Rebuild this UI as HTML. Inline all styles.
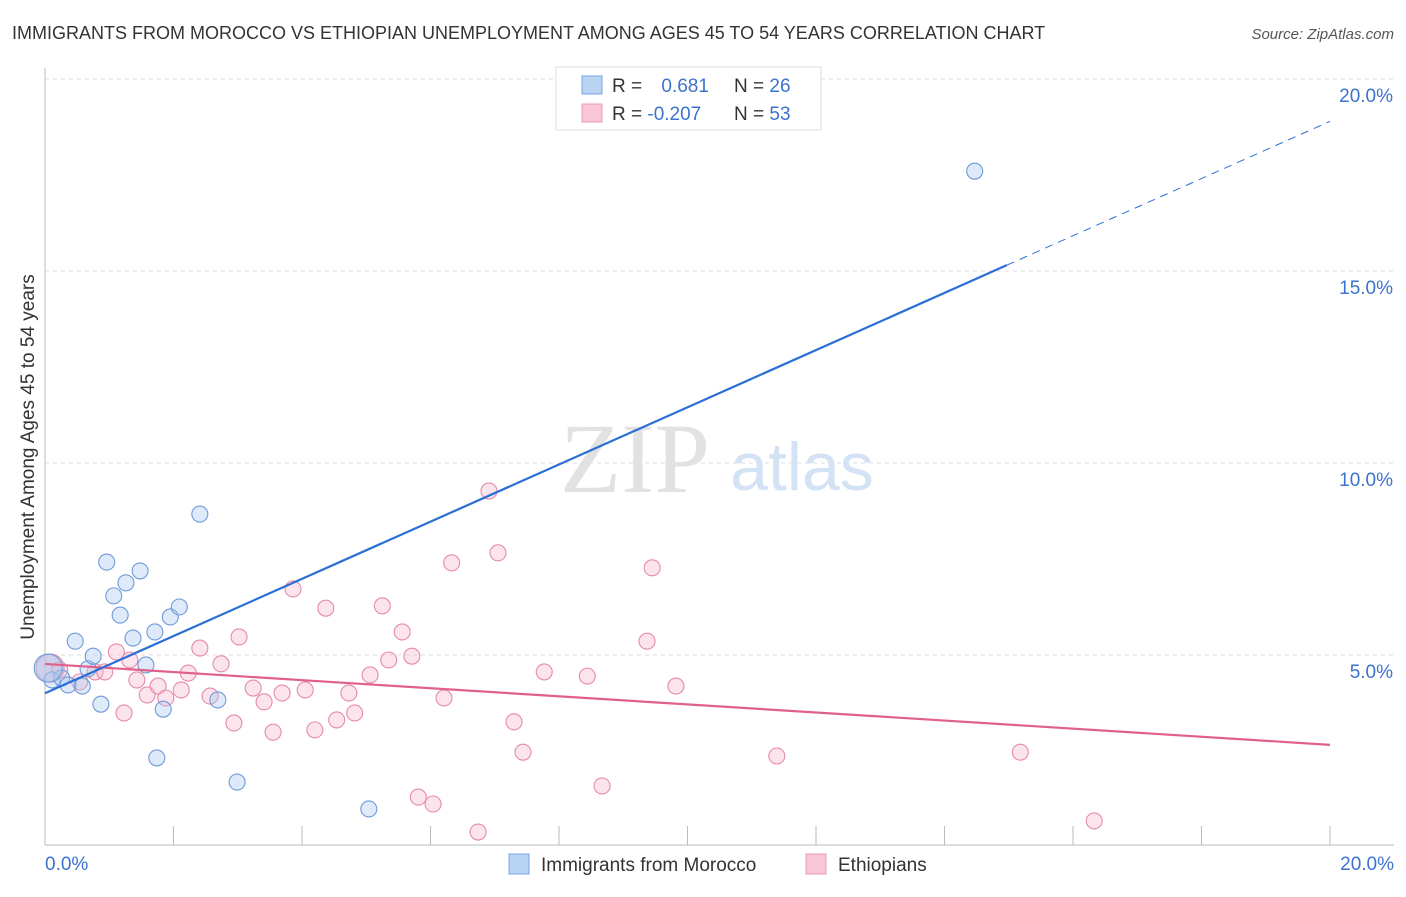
<!DOCTYPE html>
<html><head><meta charset="utf-8">
<style>
body{margin:0;background:#fff;font-family:"Liberation Sans",sans-serif;}
svg text{font-family:"Liberation Sans",sans-serif;}
</style></head>
<body>
<svg id="chart" width="1406" height="892" viewBox="0 0 1406 892">
<text x="12" y="39" font-size="18" fill="#333">IMMIGRANTS FROM MOROCCO VS ETHIOPIAN UNEMPLOYMENT AMONG AGES 45 TO 54 YEARS CORRELATION CHART</text>
<text x="1394" y="39" font-size="15" fill="#555" font-style="italic" text-anchor="end">Source: ZipAtlas.com</text>
<g id="grid"></g>
<text x="635" y="492" font-size="100" fill="#e2e2e2" style="font-family:'Liberation Serif',serif" text-anchor="middle">ZIP</text>
<text x="802" y="490" font-size="68" fill="#d3e2f4" text-anchor="middle">atlas</text>
<text transform="translate(34,457) rotate(-90)" font-size="19" fill="#333" text-anchor="middle">Unemployment Among Ages 45 to 54 years</text>
<g id="marks"></g>
<g>
<rect x="556" y="67" width="265" height="63" fill="#fff" stroke="#ddd"/>
<rect x="582" y="76" width="20" height="18" fill="#b9d3f3" stroke="#7aa6e0"/>
<rect x="582" y="104" width="20" height="18" fill="#f9c6d6" stroke="#eb9bb6"/>
<text x="612" y="92" font-size="19" fill="#333">R = <tspan fill="#3b73d0" dx="14">0.681</tspan></text>
<text x="734" y="92" font-size="19" fill="#333">N = <tspan fill="#3b73d0">26</tspan></text>
<text x="612" y="120" font-size="19" fill="#333">R = <tspan fill="#3b73d0">-0.207</tspan></text>
<text x="734" y="120" font-size="19" fill="#333">N = <tspan fill="#3b73d0">53</tspan></text>
</g>
<g>
<rect x="509" y="854" width="20" height="20" fill="#b9d3f3" stroke="#7aa6e0"/>
<text x="541" y="871" font-size="19" fill="#333">Immigrants from Morocco</text>
<rect x="806" y="854" width="20" height="20" fill="#f9c6d6" stroke="#eb9bb6"/>
<text x="838" y="871" font-size="19" fill="#333">Ethiopians</text>
</g>
</svg>
<script>
const yTicks=[5,10,15,20];
const yTickLabels=["5.0%","10.0%","15.0%","20.0%"];
const xTickLabels=["0.0%","20.0%"];
const moroccoX=[0.11,0.26,0.36,0.47,0.58,0.67,0.75,0.87,0.96,1.07,1.17,1.26,1.37,1.48,1.57,1.71,1.74,1.84,1.95,2.09,2.41,2.69,2.99,5.04,14.47,0.05];
const moroccoY=[4.35,4.40,4.22,5.36,4.19,4.64,4.97,3.72,7.42,6.54,6.04,6.88,5.44,7.19,4.74,5.60,2.32,3.59,5.99,6.25,8.67,3.83,1.69,0.99,17.60,4.66];
const ethX=[0.08,0.23,0.54,0.78,0.93,1.11,1.23,1.43,1.59,1.76,1.88,2.12,2.23,2.41,2.57,2.74,2.94,3.02,3.24,3.41,3.55,3.69,3.86,4.05,4.20,4.37,4.54,4.73,4.82,5.06,5.25,5.35,5.56,5.71,5.81,6.04,6.21,6.33,6.74,6.91,7.05,7.30,7.44,7.77,8.44,8.67,9.37,9.45,9.82,11.39,15.18,16.33,1.32];
const ethY=[4.66,4.61,4.30,4.56,4.56,5.08,3.49,4.35,3.96,4.19,3.88,4.09,4.53,5.18,3.93,4.77,3.23,5.47,4.14,3.78,2.99,4.01,6.72,4.09,3.05,6.22,3.31,4.01,3.49,4.48,6.28,4.87,5.60,4.97,1.30,1.12,3.88,7.40,0.39,9.27,7.66,3.26,2.47,4.56,4.45,1.59,5.36,7.27,4.19,2.37,2.47,0.68,4.87];
const ns="http://www.w3.org/2000/svg";
const X0=45,X1=1330,Y0=847,Y1=79;
function sx(v){return X0+(v/20)*(X1-X0);}
function sy(v){return Y0-(v/20)*(Y0-Y1);}
function mk(t,a,p){const e=document.createElementNS(ns,t);for(const k in a)e.setAttribute(k,a[k]);(p||document.getElementById('marks')).appendChild(e);return e;}
const grid=document.getElementById('grid');
yTicks.forEach((t,i)=>{
 const l=mk('line',{x1:X0,x2:1394,y1:sy(t),y2:sy(t),stroke:'#ddd','stroke-dasharray':'4,4'},grid);
 
 
 const tx=mk('text',{x:1393,y:sy(t)+23,'font-size':19,fill:'#3b73d0','text-anchor':'end'},grid);
 tx.textContent=yTickLabels[i];
 
 
});
const ax=mk('line',{x1:X0,x2:1394,y1:845,y2:845,stroke:'#bbb'},grid);


const ay=mk('line',{x1:X0,x2:X0,y1:68,y2:845,stroke:'#bbb'},grid);


for(let i=1;i<=10;i++){
 const tk=mk('line',{x1:sx(i*2),x2:sx(i*2),y1:826,y2:845,stroke:'#bbb'},grid);
 
 
}
xTickLabels.forEach((s,i)=>{
 const tx=mk('text',{x:i?1394:45,y:870,'font-size':19,fill:'#3b73d0','text-anchor':i?'end':'start'},grid);
 tx.textContent=s;
 
 
});
function reg(xs,ys){const n=xs.length;let mx=0,my=0;for(let i=0;i<n;i++){mx+=xs[i];my+=ys[i];}mx/=n;my/=n;let sxy=0,sxx=0;for(let i=0;i<n;i++){sxy+=(xs[i]-mx)*(ys[i]-my);sxx+=(xs[i]-mx)**2;}const b=sxy/sxx;return [my-b*mx,b];}
function pts(xs,ys,fill,stroke,name){
 xs.forEach((x,i)=>{
  const big=(x<0.1);
  const c=mk('circle',{cx:sx(x),cy:sy(ys[i]),r:big?14:8,fill:fill,'fill-opacity':big?0.55:0.38,stroke:stroke,'stroke-width':1.1});
  
  
 });
}
pts(ethX,ethY,'#f7b8cc','#e68aaa','ethiopians-point');
pts(moroccoX,moroccoY,'#a9c8f0','#6f9ad8','morocco-point');
const [ea,eb]=reg(ethX,ethY);
const el=mk('line',{x1:sx(0),y1:sy(ea),x2:sx(20),y2:sy(ea+eb*20),stroke:'#e0608c','stroke-width':2.2});


const [ma,mb]=reg(moroccoX,moroccoY);
const mmax=Math.max(...moroccoX)+0.5;
const ml=mk('line',{x1:sx(0),y1:sy(ma),x2:sx(mmax),y2:sy(ma+mb*mmax),stroke:'#2a6fd6','stroke-width':2.2});


const md=mk('line',{x1:sx(mmax),y1:sy(ma+mb*mmax),x2:sx(20),y2:sy(ma+mb*20),stroke:'#2a6fd6','stroke-width':1,'stroke-dasharray':'8,6'});


</script>
</body></html>
